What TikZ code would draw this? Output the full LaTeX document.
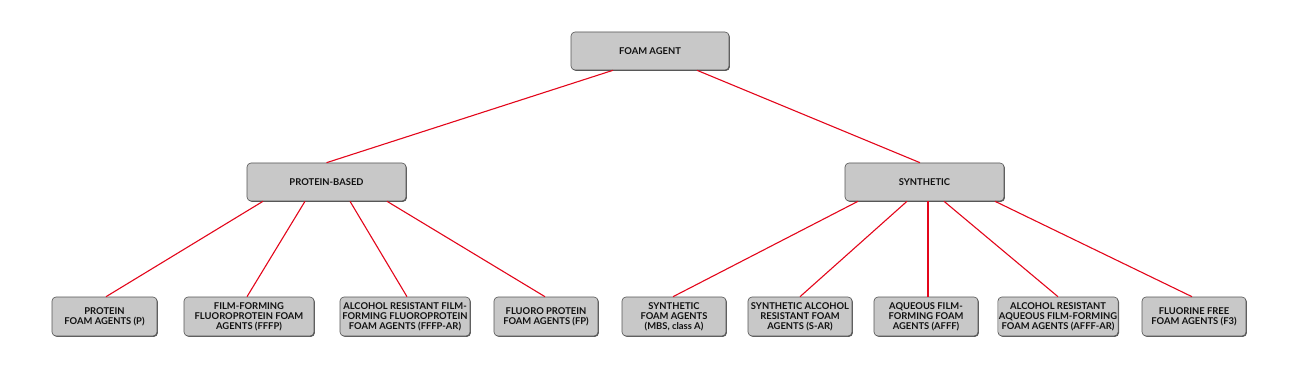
\documentclass[tikz,border=0pt]{standalone}
\usepackage{fontspec}
\setmainfont{Lato}
\usetikzlibrary{shadows}
\definecolor{boxfill}{HTML}{C8C8C8}
\definecolor{boxdraw}{HTML}{555555}
\definecolor{linkred}{HTML}{E3061B}
\definecolor{txt}{HTML}{111111}
\begin{document}
\begin{tikzpicture}[x=1pt,y=-1pt,
  fbox/.style={draw=boxdraw, line width=0.6pt, fill=boxfill, rounded corners=4pt,
    drop shadow={shadow xshift=0.9pt, shadow yshift=-0.9pt, fill=black!65, opacity=1},
    align=center, inner sep=1pt, text=txt,
    font=\fontsize{9.4}{9.9}\selectfont\bfseries},
  top/.style={fbox, minimum width=158pt, minimum height=38pt},
  leaf/.style={fbox, minimum height=39pt},
  link/.style={draw=linkred, line width=1.1pt}]
\useasboundingbox (0,0) rectangle (1300,379);
\node[top] (root) at (650,51) {FOAM AGENT};
\node[top, minimum width=159pt] (prot) at (326.5,182) {PROTEIN-BASED};
\node[top, minimum width=159pt] (syn) at (924.5,182) {SYNTHETIC};
\node[leaf, minimum width=105pt] (b1) at (104.5,316.5) {PROTEIN\\FOAM AGENTS (P)};
\node[leaf, minimum width=130pt] (b2) at (249,316.5) {FILM-FORMING\\FLUOROPROTEIN FOAM\\AGENTS (FFFP)};
\node[leaf, minimum width=130pt] (b3) at (405,316.5) {ALCOHOL RESISTANT FILM-\\FORMING FLUOROPROTEIN\\FOAM AGENTS (FFFP-AR)};
\node[leaf, minimum width=104pt] (b4) at (546,316.5) {FLUORO PROTEIN\\FOAM AGENTS (FP)};
\node[leaf, minimum width=104pt] (b5) at (674,316.5) {SYNTHETIC\\FOAM AGENTS\\(MBS, class A)};
\node[leaf, minimum width=104pt] (b6) at (800,316.5) {SYNTHETIC ALCOHOL\\RESISTANT FOAM\\AGENTS (S-AR)};
\node[leaf, minimum width=104pt] (b7) at (926,316.5) {AQUEOUS FILM-\\FORMING FOAM\\AGENTS (AFFF)};
\node[leaf, minimum width=120pt] (b8) at (1058,316.5) {ALCOHOL RESISTANT\\AQUEOUS FILM-FORMING\\FOAM AGENTS (AFFF-AR)};
\node[leaf, minimum width=104pt] (b9) at (1194,316.5) {FLUORINE FREE\\FOAM AGENTS (F3)};
\path[link] ([xshift=-37pt]root.south) -- (prot.north);
\path[link] ([xshift=47pt]root.south) -- ([xshift=-4.5pt]syn.north);
\path[link] ([xshift=-63.5pt]prot.south) -- ([xshift=1.5pt]b1.north);
\path[link] ([xshift=-21.5pt]prot.south) -- ([xshift=-2pt]b2.north);
\path[link] ([xshift=23.5pt]prot.south) -- ([xshift=2pt]b3.north);
\path[link] ([xshift=60.5pt]prot.south) -- ([xshift=-1pt]b4.north);
\path[link] ([xshift=-66.5pt]syn.south) -- ([xshift=-1pt]b5.north);
\path[link] ([xshift=-17.5pt]syn.south) -- (b6.north);
\path[link] ([xshift=3.5pt]syn.south) -- ([xshift=2pt]b7.north);
\path[link] ([xshift=19.5pt]syn.south) -- (b8.north);
\path[link] ([xshift=70.5pt]syn.south) -- ([xshift=-2pt]b9.north);
\end{tikzpicture}
\end{document}
